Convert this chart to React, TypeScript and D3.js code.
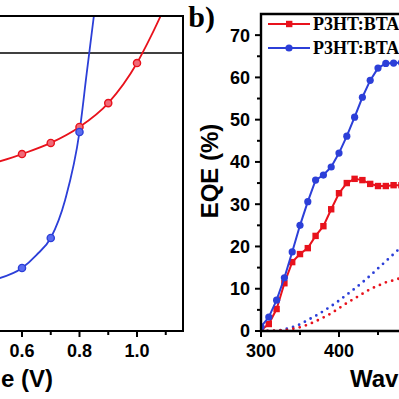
import * as d3 from "d3";

// left panel: J-V curves (panel a, cropped)
const redVoltage = [0.4, 0.5, 0.6, 0.7, 0.8, 0.9, 1.0, 1.05, 1.1];
const redCurrent = [-6.4, -5.95, -5.45, -4.85, -3.99, -2.7, -0.54, 0.95, 2.6];
const blueVoltage = [0.4, 0.5, 0.6, 0.65, 0.7, 0.75, 0.8, 0.825, 0.85, 0.875];
const blueCurrent = [-12.6, -12.25, -11.6, -10.9, -9.98, -7.93, -4.26, -1.1, 2.0, 5.2];
const voltageTicks = [0.6, 0.8, 1.0];
const voltageMinorTicks = [0.5, 0.7, 0.9, 1.1];

// right panel: EQE spectra (panel b, cropped)
const wavelengths = [300, 310, 320, 330, 340, 350, 360, 370, 380, 390, 400, 410, 420, 430, 440, 450, 460, 470, 480];
const eqeRed = [0.2, 1.65, 5.2, 11.3, 16.3, 18.2, 19.6, 22.5, 24.8, 28.8, 32.6, 35.0, 36.0, 35.7, 34.8, 34.3, 34.3, 34.5, 34.5];
const eqeBlue = [1.0, 3.3, 7.3, 12.6, 18.7, 25.0, 30.6, 35.7, 36.9, 38.8, 42.1, 46.1, 50.6, 55.3, 59.3, 62.2, 63.3, 63.4, 63.5];
const dottedRed = [0, 0, 0.1, 0.2, 0.5, 0.9, 1.5, 2.3, 3.2, 4.2, 5.4, 6.6, 7.7, 8.8, 9.9, 10.7, 11.5, 12.0, 12.6];
const dottedBlue = [0, 0, 0.1, 0.4, 0.9, 1.6, 2.6, 3.6, 4.7, 5.9, 7.2, 8.6, 10.0, 11.5, 13.1, 14.8, 16.5, 18.2, 19.9];
const eqeTicks = [0, 10, 20, 30, 40, 50, 60, 70];
const eqeMinorTicks = [5, 15, 25, 35, 45, 55, 65];
const wavelengthTicks = [300, 400];
const wavelengthMinorTicks = [350, 450];
const legendLabels = ["P3HT:BTA1", "P3HT:BTA3"];

const RED = "#e8121c";
const BLUE = "#2c3fd8";
const sans = "'Liberation Sans', Arial, sans-serif";
const serif = "'Liberation Serif', 'Times New Roman', serif";

const jv = { left: -150.5, right: 183, top: 16, bottom: 331 };
const eqe = { left: 261, right: 417, top: 14, bottom: 331 };

const xV = d3.scaleLinear().domain([0, 1.16]).range([jv.left, jv.right]);
const yJ = d3.scaleLinear().domain([-15, 2]).range([jv.bottom, jv.top]);
const xW = d3.scaleLinear().domain([300, 500]).range([eqe.left, eqe.right]);
const yE = d3.scaleLinear().domain([0, 75]).range([eqe.bottom, eqe.top]);

type Pt = [number, number];
const zip = (a: number[], b: number[]): Pt[] => a.map((v, i) => [v, b[i]]);
const onTenth = (v: number) => Math.abs(v * 10 - Math.round(v * 10)) < 1e-6;

const jvLine = d3.line<Pt>().x((d) => xV(d[0])).y((d) => yJ(d[1])).curve(d3.curveMonotoneX);
const eqeLine = d3.line<Pt>().x((d) => xW(d[0])).y((d) => yE(d[1]));
const dotLine = d3.line<Pt>().x((d) => xW(d[0])).y((d) => yE(d[1])).curve(d3.curveMonotoneX);

export default function App() {
  const red = zip(redVoltage, redCurrent);
  const blue = zip(blueVoltage, blueCurrent);
  const eRed = zip(wavelengths, eqeRed);
  const eBlue = zip(wavelengths, eqeBlue);

  return (
    <svg width={399} height={399} style={{ position: "absolute", left: 0, top: 0, background: "#fff" }}>
      <defs>
        <clipPath id="clipJV">
          <rect x={jv.left} y={jv.top} width={jv.right - jv.left} height={jv.bottom - jv.top} />
        </clipPath>
        <clipPath id="clipEQE">
          <rect x={eqe.left} y={eqe.top} width={eqe.right - eqe.left} height={eqe.bottom - eqe.top} />
        </clipPath>
      </defs>
      <rect width={399} height={399} fill="#fff" />

      {/* panel a */}
      <line x1={jv.left} x2={jv.right} y1={yJ(0)} y2={yJ(0)} stroke="#000" strokeWidth={1.6} />
      <g clipPath="url(#clipJV)">
        <path d={jvLine(red) ?? ""} fill="none" stroke={RED} strokeWidth={1.8} />
        <path d={jvLine(blue) ?? ""} fill="none" stroke={BLUE} strokeWidth={1.8} />
        {red.filter((d) => onTenth(d[0])).map((d) => (
          <circle key={`r${d[0]}`} cx={xV(d[0])} cy={yJ(d[1])} r={3.6} fill="#f06a78" stroke={RED} strokeWidth={1.4} />
        ))}
        {blue.filter((d) => onTenth(d[0])).map((d) => (
          <circle key={`b${d[0]}`} cx={xV(d[0])} cy={yJ(d[1])} r={3.6} fill="#5a6cf0" stroke={BLUE} strokeWidth={1.4} />
        ))}
      </g>
      <path d={`M${jv.left},${jv.top}H${jv.right}V${jv.bottom}H${jv.left}`} fill="none" stroke="#000" strokeWidth={2} />
      {voltageTicks.map((t) => (
        <g key={`vt${t}`}>
          <line x1={xV(t)} x2={xV(t)} y1={jv.bottom} y2={jv.bottom + 6} stroke="#000" strokeWidth={2} />
          <text x={xV(t)} y={357} textAnchor="middle" fontFamily={sans} fontWeight="bold" fontSize={18}>{t.toFixed(1)}</text>
        </g>
      ))}
      {voltageMinorTicks.map((t) => (
        <line key={`vm${t}`} x1={xV(t)} x2={xV(t)} y1={jv.bottom} y2={jv.bottom + 4} stroke="#000" strokeWidth={2} />
      ))}
      <text x={53} y={387} textAnchor="end" fontFamily={sans} fontWeight="bold" fontSize={24}>Voltage (V)</text>

      {/* panel b */}
      <text x={215} y={27} textAnchor="end" fontFamily={serif} fontWeight="bold" fontSize={30}>b)</text>
      <g clipPath="url(#clipEQE)">
        <path d={dotLine(zip(wavelengths, dottedBlue)) ?? ""} fill="none" stroke={BLUE} strokeWidth={2.8} strokeDasharray="0 6.5" strokeLinecap="round" />
        <path d={dotLine(zip(wavelengths, dottedRed)) ?? ""} fill="none" stroke={RED} strokeWidth={2.8} strokeDasharray="0 6.5" strokeLinecap="round" />
        <path d={eqeLine(eRed) ?? ""} fill="none" stroke={RED} strokeWidth={2} />
        {eRed.map((d) => (
          <rect key={`er${d[0]}`} x={xW(d[0]) - 3.2} y={yE(d[1]) - 3.2} width={6.4} height={6.4} fill={RED} />
        ))}
        <path d={eqeLine(eBlue) ?? ""} fill="none" stroke={BLUE} strokeWidth={2} />
        {eBlue.map((d) => (
          <circle key={`eb${d[0]}`} cx={xW(d[0])} cy={yE(d[1])} r={3.6} fill={BLUE} />
        ))}
      </g>
      <path d={`M${eqe.right},${eqe.top}H${eqe.left}V${eqe.bottom}H${eqe.right}`} fill="none" stroke="#000" strokeWidth={2.4} />
      {eqeTicks.map((t) => (
        <g key={`et${t}`}>
          <line x1={eqe.left - 6} x2={eqe.left} y1={yE(t)} y2={yE(t)} stroke="#000" strokeWidth={2} />
          <text x={250} y={yE(t)} dy="0.36em" textAnchor="end" fontFamily={sans} fontWeight="bold" fontSize={18}>{t}</text>
        </g>
      ))}
      {eqeMinorTicks.map((t) => (
        <line key={`em${t}`} x1={eqe.left - 4} x2={eqe.left} y1={yE(t)} y2={yE(t)} stroke="#000" strokeWidth={2} />
      ))}
      {wavelengthTicks.map((t) => (
        <g key={`wt${t}`}>
          <line x1={xW(t)} x2={xW(t)} y1={eqe.bottom} y2={eqe.bottom + 6} stroke="#000" strokeWidth={2} />
          <text x={xW(t)} y={357} textAnchor="middle" fontFamily={sans} fontWeight="bold" fontSize={18}>{t}</text>
        </g>
      ))}
      {wavelengthMinorTicks.map((t) => (
        <line key={`wm${t}`} x1={xW(t)} x2={xW(t)} y1={eqe.bottom} y2={eqe.bottom + 4} stroke="#000" strokeWidth={2} />
      ))}
      <text x={350} y={387} fontFamily={sans} fontWeight="bold" fontSize={24}>Wavelength (nm)</text>
      <text transform="translate(218, 171) rotate(-90)" textAnchor="middle" fontFamily={sans} fontWeight="bold" fontSize={24}>EQE (%)</text>

      {/* legend */}
      {legendLabels.map((label, i) => {
        const y = 24 + i * 24;
        const color = i === 0 ? RED : BLUE;
        return (
          <g key={label}>
            <line x1={268} x2={310} y1={y} y2={y} stroke={color} strokeWidth={2} />
            {i === 0 ? (
              <rect x={286} y={y - 3.2} width={6.4} height={6.4} fill={color} />
            ) : (
              <circle cx={289} cy={y} r={3.6} fill={color} />
            )}
            <text x={313} y={y + 6} fontFamily={serif} fontWeight="bold" fontSize={18}>{label}</text>
          </g>
        );
      })}
    </svg>
  );
}
